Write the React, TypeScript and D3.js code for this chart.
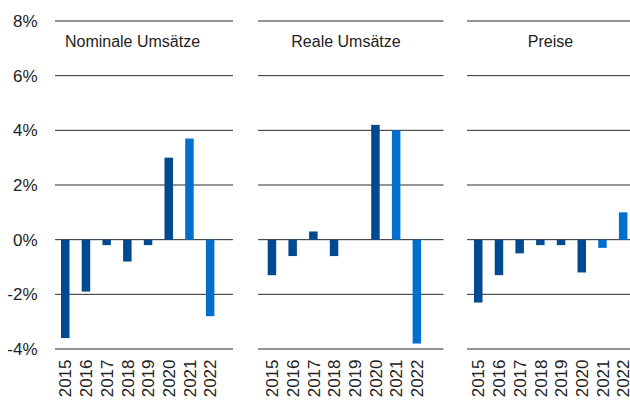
import React from "react";
import * as d3 from "d3";

// Year-over-year change, retail trade (in %)
const years = ["2015", "2016", "2017", "2018", "2019", "2020", "2021", "2022"];
const nominal = [-3.6, -1.9, -0.2, -0.8, -0.2, 3.0, 3.7, -2.8];
const real = [-1.3, -0.6, 0.3, -0.6, 0.0, 4.2, 4.0, -3.8];
const prices = [-2.3, -1.3, -0.5, -0.2, -0.2, -1.2, -0.3, 1.0];
const panelTitles = ["Nominale Umsätze", "Reale Umsätze", "Preise"];
const yTicks = [8, 6, 4, 2, 0, -2, -4];

const WIDTH = 630;
const HEIGHT = 401;
const FONT = "'Liberation Sans', Arial, Helvetica, sans-serif";
const DARK = "#004A91";
const LIGHT = "#0070CC";
const TEXT = "#222";

const STEP = 20.7;

const panels = [
  { title: panelTitles[0], values: nominal, gx0: 55, gx1: 233, bx0: 54.9, titleX: 132.5 },
  { title: panelTitles[1], values: real, gx0: 258, gx1: 443.5, bx0: 261.6, titleX: 346 },
  { title: panelTitles[2], values: prices, gx0: 467, gx1: 630, bx0: 467.9, titleX: 550.5 },
];

export default function App() {
  const y = d3.scaleLinear().domain([-4, 8]).range([349, 21]);

  return (
    <svg
      width={WIDTH}
      height={HEIGHT}
      viewBox={`0 0 ${WIDTH} ${HEIGHT}`}
      style={{ position: "absolute", left: 0, top: 0, display: "block", background: "#fff" }}
      fontFamily={FONT}
    >
      {/* y-axis tick labels */}
      {yTicks.map((t) => (
        <text key={t} x={37.5} y={y(t) + 6} textAnchor="end" fontSize={17} fill={TEXT}>
          {`${t}%`}
        </text>
      ))}

      {panels.map((p, pi) => {
        const x = d3
          .scaleBand<string>()
          .domain(years)
          .range([p.bx0, p.bx0 + STEP * years.length])
          .paddingInner(0.59)
          .paddingOuter(0.295);
        return (
          <g key={pi}>
            {/* horizontal gridlines */}
            {yTicks.map((t) => (
              <line
                key={t}
                x1={p.gx0}
                x2={p.gx1}
                y1={y(t)}
                y2={y(t)}
                stroke="#2a2a2a"
                strokeWidth={1}
              />
            ))}
            {/* bars */}
            {years.map((yr, i) => {
              const v = p.values[i];
              const y0 = y(Math.max(0, v));
              const h = Math.abs(y(v) - y(0));
              return (
                <rect
                  key={yr}
                  x={x(yr)}
                  y={y0}
                  width={x.bandwidth()}
                  height={h}
                  fill={i >= 6 ? LIGHT : DARK}
                />
              );
            })}
            {/* panel title */}
            <text x={p.titleX} y={46.5} textAnchor="middle" fontSize={16} fill={TEXT}>
              {p.title}
            </text>
            {/* rotated year labels */}
            {years.map((yr) => {
              const cx = (x(yr) as number) + x.bandwidth() / 2;
              return (
                <text
                  key={yr}
                  transform={`translate(${cx + 6.2},359.5) rotate(-90)`}
                  textAnchor="end"
                  fontSize={17}
                  fill={TEXT}
                >
                  {yr}
                </text>
              );
            })}
          </g>
        );
      })}
    </svg>
  );
}
